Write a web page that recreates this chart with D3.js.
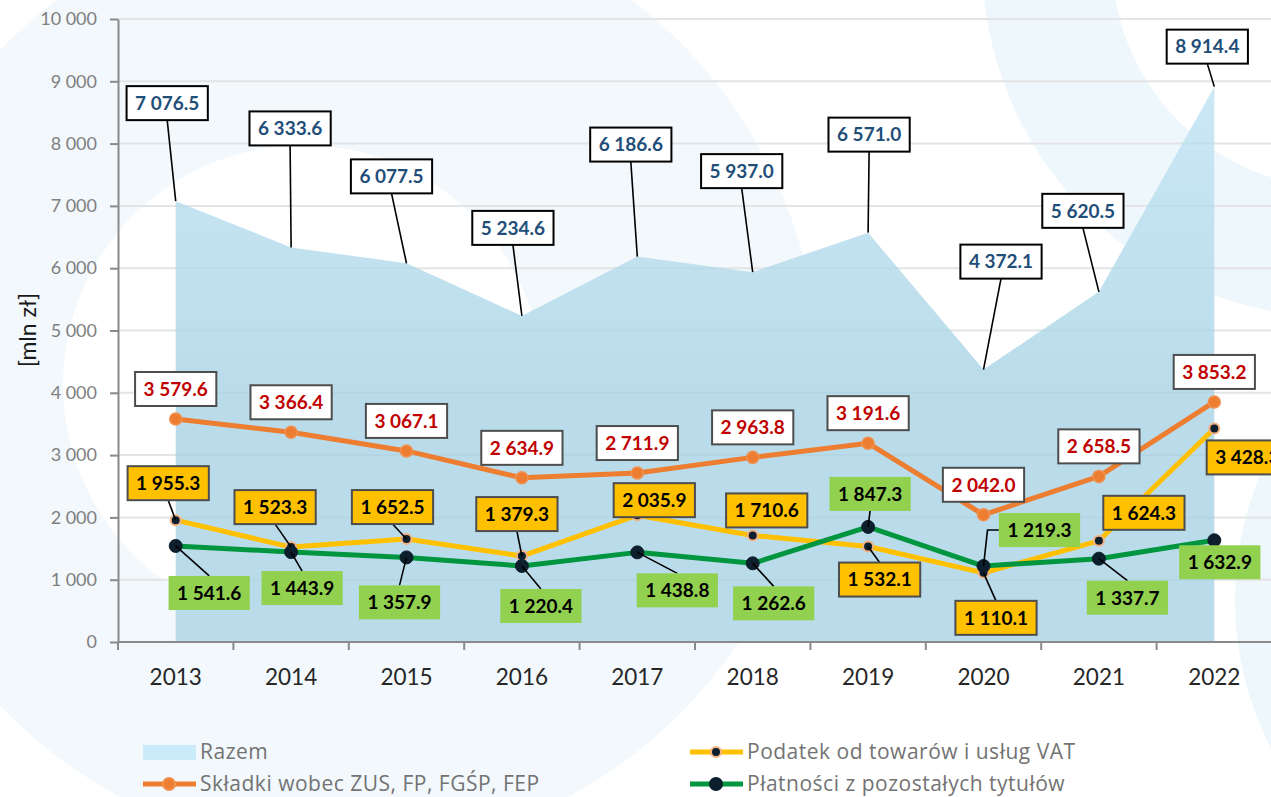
<!DOCTYPE html>
<html>
<head>
<meta charset="utf-8">
<script src="https://cdn.jsdelivr.net/npm/d3@7"></script>
<style>
  html, body { margin: 0; padding: 0; background: #ffffff; }
  svg { display: block; }
  text { font-family: Lato, "Open Sans", sans-serif; }
</style>
</head>
<body>
<svg id="chart" width="1271" height="797"></svg>
<script>
// ---------------- DATA ----------------
const years = ["2013", "2014", "2015", "2016", "2017", "2018", "2019", "2020", "2021", "2022"];
const razem = [7076.5, 6333.6, 6077.5, 5234.6, 6186.6, 5937.0, 6571.0, 4372.1, 5620.5, 8914.4];
const skladki = [3579.6, 3366.4, 3067.1, 2634.9, 2711.9, 2963.8, 3191.6, 2042.0, 2658.5, 3853.2];
const vat = [1955.3, 1523.3, 1652.5, 1379.3, 2035.9, 1710.6, 1532.1, 1110.1, 1624.3, 3428.3];
const pozostale = [1541.6, 1443.9, 1357.9, 1220.4, 1438.8, 1262.6, 1847.3, 1219.3, 1337.7, 1632.9];
const yTicks = [0, 1000, 2000, 3000, 4000, 5000, 6000, 7000, 8000, 9000, 10000];
const seriesNames = ["Razem", "Składki wobec ZUS, FP, FGŚP, FEP", "Podatek od towarów i usług VAT", "Płatności z pozostałych tytułów"];
const yTitle = "[mln zł]";

// ---------------- LAYOUT (label offsets from points, px) ----------------
const razemOff = [[-8.5,-98],[-1,-119],[-15,-87],[-9,-88],[-6.5,-112],[-11,-101],[1,-98],[17.5,-108],[-16,-81],[-7,-40]];
const skladkiOff = years.map(() => [0, -30]);
const vatOff = [[-7.5,-37],[-16,-40],[-14,-32],[-5,-42],[17,-15],[14,-25],[11.5,33],[12.5,45],[45,-28],[33,29]];
const vatLeader = [1,1,1,1,0,0,1,1,0,0];
const pozOff = [[33.5,47],[11,36],[-7,45],[19,40],[40,38],[21,40],[2,-33],[56,-36],[28.5,39],[5.5,22]];
const pozLeader = [1,1,1,1,1,1,1,2,1,0]; // 2 = elbow

// ---------------- SETUP ----------------
const W = 1271, H = 797;
const svg = d3.select("#chart");
const fmt = d3.formatLocale({decimal: ".", thousands: " ", grouping: [3], currency: ["", ""]});
const fmt1 = fmt.format(",.1f");
const fmt0 = fmt.format(",.0f");

const x = d3.scaleBand().domain(years).range([118, 1272]).padding(0);
const cx = d => x(d) + x.bandwidth() / 2;
const y = d3.scaleLinear().domain([0, 10000]).range([642, 19]);

// ---------------- BACKGROUND DECORATION ----------------
const deco = svg.append("g");
deco.append("rect").attr("width", W).attr("height", H).attr("fill", "#ffffff");
deco.append("circle").attr("cx", 344).attr("cy", 378).attr("r", 475).attr("fill", "#f2f8fc");
deco.append("circle").attr("cx", 303).attr("cy", 385).attr("r", 240).attr("fill", "#ffffff");
deco.append("circle").attr("cx", 1340).attr("cy", -40).attr("r", 358).attr("fill", "#eef7fc");
deco.append("circle").attr("cx", 1340).attr("cy", -40).attr("r", 228).attr("fill", "#ffffff");
deco.append("circle").attr("cx", 1560).attr("cy", 600).attr("r", 325).attr("fill", "#eef7fc");

// ---------------- DEFS ----------------
const defs = svg.append("defs");
const grad = defs.append("linearGradient").attr("id", "areaGrad")
  .attr("gradientUnits", "userSpaceOnUse").attr("x1", 0).attr("x2", 0).attr("y1", y(9000)).attr("y2", y(4000));
grad.append("stop").attr("offset", 0).attr("stop-color", "#cbe8f5");
grad.append("stop").attr("offset", 1).attr("stop-color", "#badcea");

// ---------------- GRID ----------------
svg.append("g").selectAll("line").data(yTicks.filter(t => t > 0)).join("line")
  .attr("x1", 118).attr("x2", W).attr("y1", d => y(d)).attr("y2", d => y(d))
  .attr("stroke", "#ebebeb").attr("stroke-width", 2);

// ---------------- AREA (Razem) ----------------
const areaGen = d3.area().x((d, i) => cx(years[i])).y0(y(0)).y1(d => y(d));
svg.append("path").datum(razem).attr("d", areaGen).attr("fill", "url(#areaGrad)");

// faint grid over area
svg.append("g").selectAll("line").data(yTicks.filter(t => t > 0)).join("line")
  .attr("x1", 118).attr("x2", W).attr("y1", d => y(d)).attr("y2", d => y(d))
  .attr("stroke", "rgba(120,140,150,0.07)").attr("stroke-width", 2);

// ---------------- AXES ----------------
const yAxis = svg.append("g").attr("transform", "translate(118,0)")
  .call(d3.axisLeft(y).tickValues(yTicks).tickFormat(fmt0).tickSize(8).tickSizeOuter(0).tickPadding(13));
yAxis.select(".domain").attr("stroke", "#8a8a8a").attr("stroke-width", 2);
yAxis.selectAll(".tick line").attr("stroke", "#8a8a8a").attr("stroke-width", 2);
yAxis.selectAll(".tick text").attr("fill", "#7f7f7f").style("font-size", "18px").style("font-family", "Lato");

const xAxis = svg.append("g").attr("transform", "translate(0,642)")
  .call(d3.axisBottom(x).tickSize(0).tickSizeOuter(0).tickPadding(27));
xAxis.select(".domain").attr("stroke", "#8a8a8a").attr("stroke-width", 2).attr("d", "M118,0H" + W);
xAxis.selectAll(".tick text").attr("fill", "#262626").style("font-size", "22.5px").style("font-family", "Lato");
// band boundary ticks
svg.append("g").selectAll("line").data(years).join("line")
  .attr("x1", d => x(d)).attr("x2", d => x(d)).attr("y1", 642).attr("y2", 650)
  .attr("stroke", "#8a8a8a").attr("stroke-width", 2);

// y title
svg.append("text").attr("transform", "translate(36,330) rotate(-90)")
  .attr("text-anchor", "middle").attr("fill", "#1a1a1a").style("font-size", "23px").text(yTitle);

// ---------------- LINES ----------------
function drawLine(vals, color, mFill, mStroke, r, sw) {
  const lg = d3.line().x((d, i) => cx(years[i])).y(d => y(d));
  svg.append("path").datum(vals).attr("d", lg).attr("fill", "none")
    .attr("stroke", color).attr("stroke-width", 5).attr("stroke-linejoin", "round");
  svg.append("g").selectAll("circle").data(vals).join("circle")
    .attr("cx", (d, i) => cx(years[i])).attr("cy", d => y(d)).attr("r", r)
    .attr("fill", mFill).attr("stroke", mStroke).attr("stroke-width", sw);
}
drawLine(skladki, "#ed7d31", "#ed7d31", "#f19150", 6, 1.5);
drawLine(vat, "#ffc000", "#0d1f2d", "#f4b183", 5, 2);
drawLine(pozostale, "#00963f", "#0d1f2d", "#0d1f2d", 6.5, 1);

// ---------------- LABELS ----------------
const leaderG = svg.append("g");
const labelG = svg.append("g");
function drawLabels(vals, offs, leaders, style) {
  vals.forEach((v, i) => {
    const px = cx(years[i]), py = y(v);
    const lx = px + offs[i][0], ly = py + offs[i][1];
    const g = labelG.append("g");
    const rect = g.append("rect");
    const t = g.append("text").attr("x", lx).attr("y", ly).attr("dy", "0.36em")
      .attr("text-anchor", "middle").attr("fill", style.text)
      .style("font-size", "19px").style("font-weight", "bold").text(fmt1(v));
    const w = t.node().getComputedTextLength() + 17, h = 34;
    rect.attr("x", lx - w / 2).attr("y", ly - h / 2).attr("width", w).attr("height", h)
      .attr("fill", style.fill).attr("stroke", style.stroke || "none").attr("stroke-width", style.stroke ? 2 : 0);
    const lead = leaders ? leaders[i] : 1;
    if (lead === 1) {
      const ey = ly > py ? ly - h / 2 : ly + h / 2;
      leaderG.append("line").attr("x1", px).attr("y1", py).attr("x2", lx).attr("y2", ey)
        .attr("stroke", "#000").attr("stroke-width", 1.6);
    } else if (lead === 2) {
      leaderG.append("path").attr("d", `M${px},${py}L${px + 4},${ly}L${lx - w / 2},${ly}`)
        .attr("fill", "none").attr("stroke", "#000").attr("stroke-width", 1.6);
    }
  });
}
drawLabels(razem, razemOff, null, {fill: "#ffffff", stroke: "#000000", text: "#1f4e79"});
drawLabels(skladki, skladkiOff, years.map(() => 0), {fill: "#ffffff", stroke: "#4d4d4d", text: "#c00000"});
drawLabels(vat, vatOff, vatLeader, {fill: "#ffc000", stroke: "#4d4d4d", text: "#000000"});
drawLabels(pozostale, pozOff, pozLeader, {fill: "#92d050", stroke: null, text: "#000000"});

// ---------------- LEGEND ----------------
const leg = svg.append("g").style("font-size", "21px").style("font-family", "'Open Sans', sans-serif");
const legItems = [
  {name: seriesNames[0], x: 143, y: 752, type: "area"},
  {name: seriesNames[1], x: 143, y: 784, type: "line", color: "#ed7d31", mFill: "#ed7d31", mStroke: "#f19150", r: 6},
  {name: seriesNames[2], x: 690, y: 752, type: "line", color: "#ffc000", mFill: "#0d1f2d", mStroke: "#f4b183", r: 5},
  {name: seriesNames[3], x: 690, y: 784, type: "line", color: "#00963f", mFill: "#0d1f2d", mStroke: "#0d1f2d", r: 6}
];
legItems.forEach(it => {
  if (it.type === "area") {
    leg.append("rect").attr("x", it.x).attr("y", it.y - 7).attr("width", 53).attr("height", 15).attr("fill", "#c9ebfa");
  } else {
    leg.append("line").attr("x1", it.x).attr("x2", it.x + 53).attr("y1", it.y).attr("y2", it.y)
      .attr("stroke", it.color).attr("stroke-width", 5);
    leg.append("circle").attr("cx", it.x + 26).attr("cy", it.y).attr("r", it.r)
      .attr("fill", it.mFill).attr("stroke", it.mStroke).attr("stroke-width", 2);
  }
  leg.append("text").attr("x", it.x + 57).attr("y", it.y).attr("dy", "0.34em")
    .style("font-family", "'Open Sans', sans-serif").style("letter-spacing", "0.5px")
    .attr("fill", "#737373").text(it.name);
});
</script>
</body>
</html>
